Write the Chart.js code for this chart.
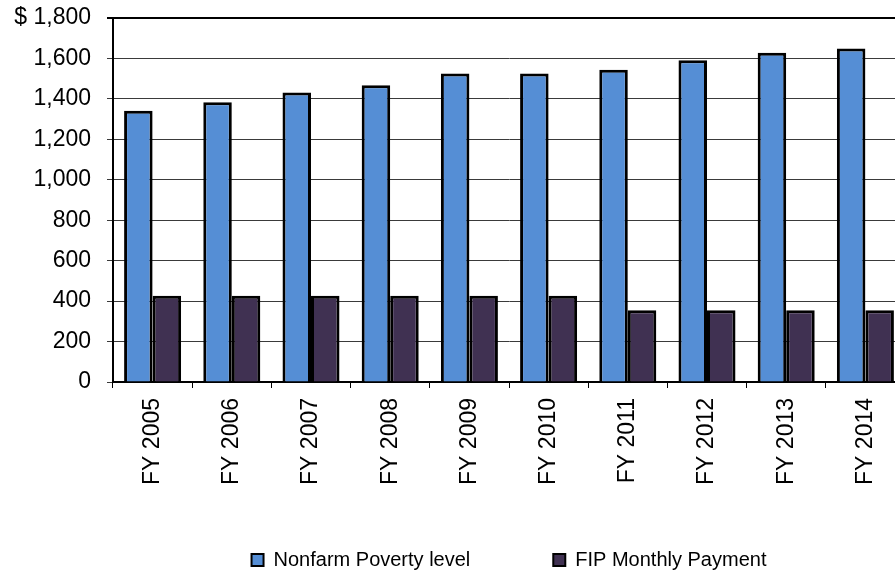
<!DOCTYPE html>
<html>
<head>
<meta charset="utf-8">
<script src="https://cdn.jsdelivr.net/npm/chart.js@4/dist/chart.umd.min.js"></script>
<style>
    html, body { margin: 0; padding: 0; background: #fff; overflow: hidden; }
    #wrap { width: 910px; height: 580px; }
</style>
</head>
<body>
<div id="wrap"><canvas id="myChart" width="910" height="580"></canvas></div>
<script>
// fiscal years on the x axis
const fiscalYears = ["FY 2005", "FY 2006", "FY 2007", "FY 2008", "FY 2009",
    "FY 2010", "FY 2011", "FY 2012", "FY 2013", "FY 2014"];

// monthly dollars
const povertyLevel = [1341, 1383, 1431, 1467, 1526, 1526, 1544, 1591, 1628, 1649];
const fipPayment = [427, 427, 427, 427, 427, 427, 355, 355, 355, 355];

const seriesNames = ["Nonfarm Poverty level", "FIP Monthly Payment"];
const seriesColors = ["#558ED5", "#403152"];

const fontFamily = "'Liberation Sans', Arial, sans-serif";

function formatDollar(value) {
    const text = Number(value).toLocaleString("en-US");
    // only the top tick carries the dollar sign
    return value === 1800 ? "$ " + text : text;
}

const canvas = document.getElementById("myChart");

new Chart(canvas, {
    type: "bar",
    data: {
        labels: fiscalYears,
        datasets: [
            {
                label: seriesNames[0],
                data: povertyLevel,
                backgroundColor: seriesColors[0],
                borderColor: "#000",
                borderWidth: 3
            },
            {
                label: seriesNames[1],
                data: fipPayment,
                backgroundColor: seriesColors[1],
                borderColor: "#000",
                borderWidth: 3
            }
        ]
    },
    options: {
        responsive: false,
        animation: false,
        devicePixelRatio: 1,
        categoryPercentage: 0.72,
        barPercentage: 1.0,
        layout: { padding: { top: 0, right: 5, left: 0, bottom: 0 } },
        plugins: {
            tooltip: { enabled: false },
            legend: {
                position: "bottom",
                fullSize: false,
                labels: {
                    color: "#000",
                    font: { family: fontFamily, size: 20 },
                    boxWidth: 12,
                    boxHeight: 12,
                    padding: 13,
                    generateLabels: function (chart) {
                        const items = Chart.defaults.plugins.legend.labels.generateLabels(chart);
                        items.forEach(item => {
                            item.strokeStyle = "#000";
                            item.lineWidth = 2;
                        });
                        // space out the two entries like the original
                        items[0].text = items[0].text + "\u2003\u2003\u2003\u2002";
                        return items;
                    }
                }
            }
        },
        scales: {
            x: {
                grid: {
                    offset: true,
                    drawOnChartArea: false,
                    drawTicks: true,
                    tickLength: 6,
                    color: "#000",
                    lineWidth: 1
                },
                border: { color: "#000", width: 2 },
                ticks: {
                    color: "#000",
                    font: { family: fontFamily, size: 23 },
                    minRotation: 90,
                    maxRotation: 90,
                    padding: 10
                },
                afterFit: function (scale) {
                    scale.height = 155;
                }
            },
            y: {
                min: 0,
                max: 1800,
                ticks: {
                    stepSize: 200,
                    color: "#000",
                    font: { family: fontFamily, size: 23 },
                    padding: 16,
                    callback: formatDollar
                },
                grid: {
                    drawTicks: true,
                    tickLength: 6,
                    color: ctx => (ctx.tick && ctx.tick.value === 1800 ? "#000" : "#3a3a3a"),
                    lineWidth: ctx => (ctx.tick && ctx.tick.value === 1800 ? 2 : 1)
                },
                border: { color: "#000", width: 2 },
                afterFit: function (scale) {
                    scale.width = 113;
                    scale.paddingTop = 18;
                }
            }
        }
    }
});
</script>
</body>
</html>
